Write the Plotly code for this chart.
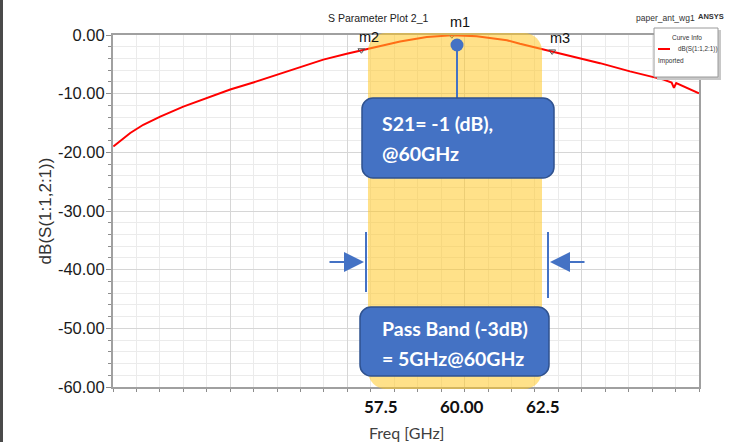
import plotly.graph_objects as go

# ---------------- data ----------------
freq_ghz = [49.29, 49.81, 50.21, 50.73, 51.44, 52.16, 52.88, 53.59, 54.31, 55.03,
            55.74, 56.46, 57.08, 57.58, 58.10, 58.92, 59.69, 60.45, 61.38, 61.78,
            62.30, 63.11, 64.24, 65.16, 66.19, 66.44, 66.51, 66.58, 67.28]
s21_db = [-19.0, -16.7, -15.3, -13.9, -12.2, -10.8, -9.3, -8.1, -6.8, -5.5,
          -4.2, -3.2, -2.4, -1.65, -1.1, -0.35, -0.05, -0.2, -0.9, -1.5,
          -2.2, -3.3, -4.8, -6.2, -7.6, -8.1, -9.0, -8.2, -9.95]

marker_names = ["m2", "m1", "m3"]
marker_freq = [56.91, 59.69, 62.77]
marker_db = [-2.6, -0.05, -2.8]

x_tickvals = [57.5, 60.0, 62.5]
x_ticktext = ["57.5", "60.00", "62.5"]
y_tickvals = [0, -10, -20, -30, -40, -50, -60]
y_ticktext = ["0.00", "-10.00", "-20.00", "-30.00", "-40.00", "-50.00", "-60.00"]

x_range = [49.28, 67.28]
y_range = [-60, 0]

# ---------------- layout helpers (pixel -> paper) ----------------
L, R, T, B = 113, 699, 35, 387
W, H = R - L, B - T


def PX(p):
    return (p - L) / W


def PY(p):
    return (B - p) / H


def rrect(x0, y0, x1, y1, r):
    k = 0.5523 * r

    def P(x, y):
        return f"{PX(x):.5f},{PY(y):.5f}"
    d = (f"M{P(x0 + r, y0)} L{P(x1 - r, y0)} "
         f"C{P(x1 - r + k, y0)} {P(x1, y0 + r - k)} {P(x1, y0 + r)} "
         f"L{P(x1, y1 - r)} "
         f"C{P(x1, y1 - r + k)} {P(x1 - r + k, y1)} {P(x1 - r, y1)} "
         f"L{P(x0 + r, y1)} "
         f"C{P(x0 + r - k, y1)} {P(x0, y1 - r + k)} {P(x0, y1 - r)} "
         f"L{P(x0, y0 + r)} "
         f"C{P(x0, y0 + r - k)} {P(x0 + r - k, y0)} {P(x0 + r, y0)} Z")
    return d


BLUE = "#4472C4"
BLUE_EDGE = "#2F528F"
ARIAL = "Liberation Sans"
CALIBRI = "Lato"

fig = go.Figure()

fig.add_trace(go.Scatter(
    x=freq_ghz, y=s21_db, mode="lines",
    line=dict(color="#FF0000", width=2),
    name="dB(S(1:1,2:1))", showlegend=False, hoverinfo="skip",
))

fig.add_trace(go.Scatter(
    x=marker_freq, y=marker_db, mode="markers",
    marker=dict(symbol="triangle-down-open", size=6, color="#555555",
                line=dict(width=1, color="#555555")),
    showlegend=False, cliponaxis=False, hoverinfo="skip",
))

shapes = []
# pass band highlight (above curve, translucent)
shapes.append(dict(type="path", xref="paper", yref="paper",
                   path=rrect(368, 33, 542, 389, 18),
                   fillcolor="rgba(255,200,40,0.55)", line=dict(width=0),
                   layer="above"))
# m1 callout stem and dot
shapes.append(dict(type="line", xref="paper", yref="paper",
                   x0=PX(457), x1=PX(457), y0=PY(45), y1=PY(98),
                   line=dict(color=BLUE, width=2), layer="above"))
shapes.append(dict(type="circle", xref="paper", yref="paper",
                   x0=PX(450.5), x1=PX(463.5), y0=PY(38.5), y1=PY(51.5),
                   fillcolor=BLUE, line=dict(color=BLUE, width=0), layer="above"))
# callout boxes
shapes.append(dict(type="path", xref="paper", yref="paper",
                   path=rrect(362, 98, 554, 178, 11),
                   fillcolor=BLUE, line=dict(color=BLUE_EDGE, width=1.5), layer="above"))
shapes.append(dict(type="path", xref="paper", yref="paper",
                   path=rrect(360, 307, 549, 376, 11),
                   fillcolor=BLUE, line=dict(color=BLUE_EDGE, width=1.5), layer="above"))
# band-edge bars
shapes.append(dict(type="line", xref="paper", yref="paper",
                   x0=PX(366), x1=PX(366), y0=PY(232), y1=PY(292),
                   line=dict(color=BLUE, width=2), layer="above"))
shapes.append(dict(type="line", xref="paper", yref="paper",
                   x0=PX(548), x1=PX(548), y0=PY(232), y1=PY(298),
                   line=dict(color=BLUE, width=2), layer="above"))
# legend ("Curve Info") box
shapes.append(dict(type="rect", xref="paper", yref="paper",
                   x0=PX(657), x1=PX(721), y0=PY(80), y1=PY(30),
                   fillcolor="#c8c8c8", line=dict(width=0), layer="above"))
shapes.append(dict(type="rect", xref="paper", yref="paper",
                   x0=PX(654), x1=PX(718), y0=PY(77), y1=PY(28),
                   fillcolor="white", line=dict(color="#9a9a9a", width=1), layer="above"))
shapes.append(dict(type="line", xref="paper", yref="paper",
                   x0=PX(658), x1=PX(670), y0=PY(49), y1=PY(49),
                   line=dict(color="#FF0000", width=2), layer="above"))
# dark strip on the far left
shapes.append(dict(type="rect", xref="paper", yref="paper",
                   x0=PX(0), x1=PX(3), y0=PY(442), y1=PY(0),
                   fillcolor="#4a4a4a", line=dict(width=0), layer="above"))

annotations = []
# marker labels
for nm, f, d in zip(marker_names, marker_freq, marker_db):
    annotations.append(dict(x=f, y=d, xref="x", yref="y", text=nm, showarrow=False,
                            xshift=8, yshift=13, xanchor="center", yanchor="middle",
                            font=dict(family=ARIAL, size=14.5, color="#111111")))
# x tick labels (placed through the x axis scale)
for v, t in zip(x_tickvals, x_ticktext):
    annotations.append(dict(x=v, y=PY(406), xref="x", yref="paper", text=t,
                            showarrow=False, xanchor="center", yanchor="middle",
                            font=dict(family=CALIBRI, size=17, color="#111111",
                                      weight="bold")))
# arrows
annotations.append(dict(x=PX(364), y=PY(262), xref="paper", yref="paper", text="",
                        showarrow=True, ax=-36, ay=0, arrowhead=2, arrowsize=2,
                        arrowwidth=2, arrowcolor=BLUE))
annotations.append(dict(x=PX(550), y=PY(262), xref="paper", yref="paper", text="",
                        showarrow=True, ax=36, ay=0, arrowhead=2, arrowsize=2,
                        arrowwidth=2, arrowcolor=BLUE))


def txt(x, y, text, size, family=ARIAL, color="#333333", xanchor="center", weight="normal"):
    annotations.append(dict(x=PX(x), y=PY(y), xref="paper", yref="paper", text=text,
                            showarrow=False, xanchor=xanchor, yanchor="middle",
                            font=dict(family=family, size=size, color=color, weight=weight)))


# callout texts
for t, yy in [("S21= -1 (dB),", 124), ("@60GHz", 153),
              ("Pass Band (-3dB)", 328), ("= 5GHz@60GHz", 358)]:
    txt(380, yy, t, 19.5, family=CALIBRI, color="white", xanchor="left", weight="bold")

# titles / labels
txt(406, 432, "Freq [GHz]", 16, family=CALIBRI, color="#404040")
txt(378, 18, "S Parameter Plot 2_1", 10.5, color="#222222")
txt(665, 18, "paper_ant_wg1", 8.5)
txt(711, 16, "ANSYS", 7.5, weight="bold")
txt(687, 37, "Curve Info", 6.5)
txt(676, 49, "dB(S(1:1,2:1))", 6.3, xanchor="left")
txt(656, 61, "Imported", 6.5, xanchor="left")

fig.update_layout(
    width=730, height=442,
    margin=dict(l=L, r=730 - R, t=T, b=442 - B, pad=0, autoexpand=False),
    paper_bgcolor="white", plot_bgcolor="white",
    showlegend=False,
    shapes=shapes, annotations=annotations,
    xaxis=dict(
        range=x_range, tickmode="linear", tick0=x_range[0], dtick=3.6,
        showticklabels=False, ticks="outside", ticklen=3, tickcolor="#8c8c8c",
        showgrid=True, gridcolor="#d6d6d6", gridwidth=1,
        showline=True, linecolor="#a0a0a0", linewidth=2, mirror=True,
        zeroline=False, automargin=False,
        minor=dict(dtick=0.72, tick0=x_range[0], ticks="outside", ticklen=3,
                   tickcolor="#8c8c8c", showgrid=True, gridcolor="#ebebeb"),
    ),
    yaxis=dict(
        range=y_range, tickmode="array", tickvals=y_tickvals, ticktext=y_ticktext,
        ticks="outside", ticklen=5, tickcolor="#8c8c8c",
        ticklabelstandoff=-2,
        tickfont=dict(family=ARIAL, size=16.5, color="#1a1a1a"),
        showgrid=True, gridcolor="#d6d6d6", gridwidth=1,
        showline=True, linecolor="#a0a0a0", linewidth=2, mirror=True,
        zeroline=False, automargin=False,
        minor=dict(dtick=2, tick0=0, ticks="outside", ticklen=3, tickcolor="#8c8c8c",
                   showgrid=True, gridcolor="#ebebeb"),
        title=dict(text="dB(S(1:1,2:1))", standoff=2,
                   font=dict(family=ARIAL, size=17, color="#333333")),
    ),
)

fig.write_html("out.html", config={"displayModeBar": False},
               post_script="document.body.style.margin='0';")
